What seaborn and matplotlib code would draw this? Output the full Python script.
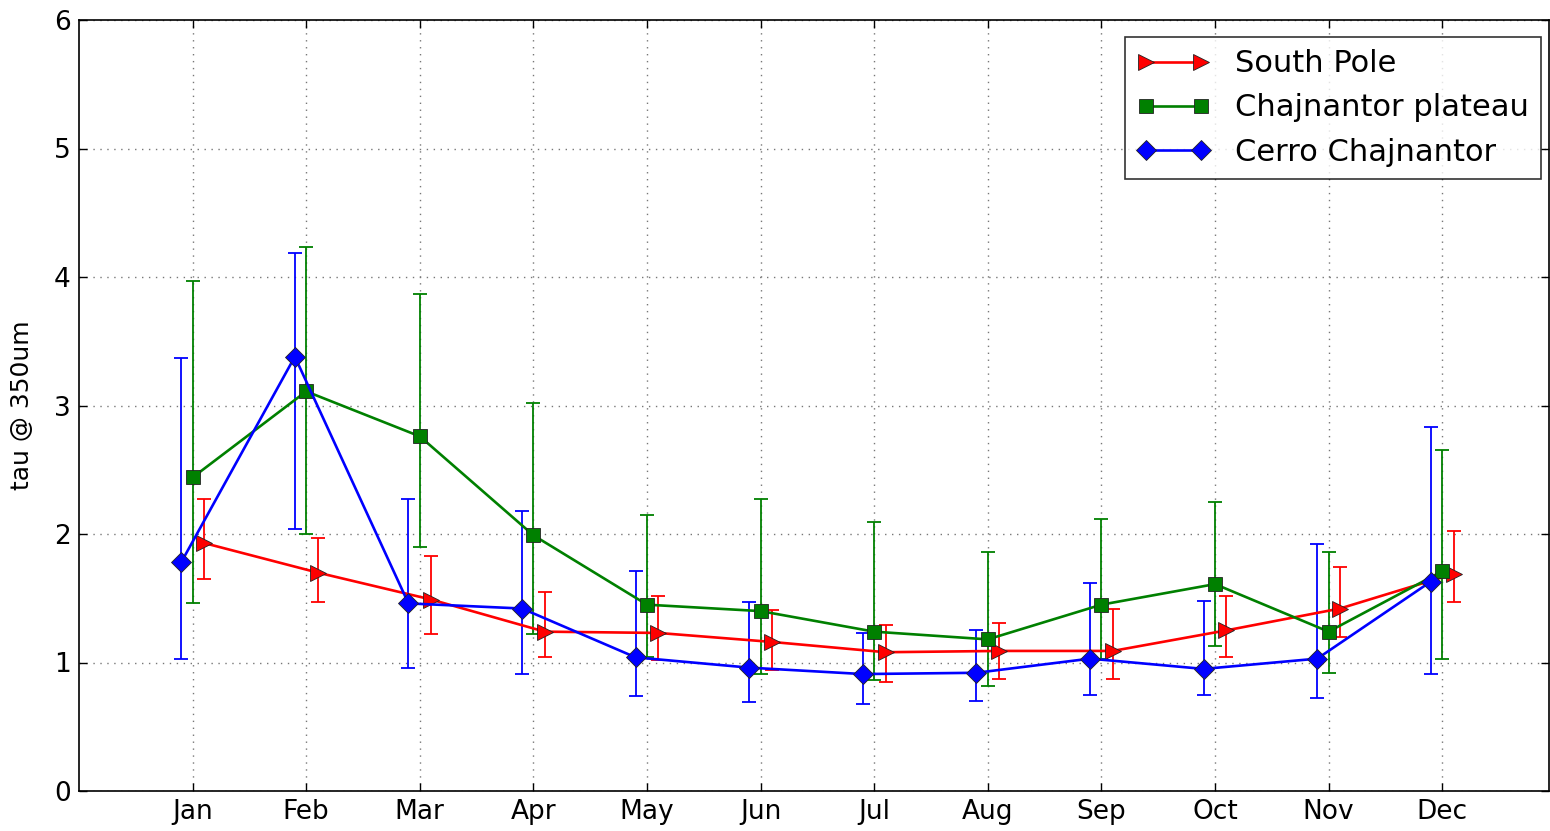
import numpy as np
import pandas as pd
import matplotlib
matplotlib.use("Agg")
import matplotlib.pyplot as plt
import seaborn as sns
from matplotlib.lines import Line2D

months = ["Jan", "Feb", "Mar", "Apr", "May", "Jun", "Jul", "Aug", "Sep", "Oct", "Nov", "Dec"]

sp_val = [1.93, 1.70, 1.49, 1.24, 1.23, 1.16, 1.08, 1.09, 1.09, 1.25, 1.42, 1.69]
sp_hi = [2.27, 1.97, 1.83, 1.55, 1.52, 1.41, 1.29, 1.31, 1.42, 1.52, 1.74, 2.02]
sp_lo = [1.65, 1.47, 1.22, 1.04, 1.02, 0.94, 0.85, 0.87, 0.87, 1.04, 1.20, 1.47]

cp_val = [2.44, 3.11, 2.76, 1.99, 1.45, 1.40, 1.24, 1.18, 1.45, 1.61, 1.24, 1.71]
cp_hi = [3.97, 4.23, 3.87, 3.02, 2.15, 2.27, 2.09, 1.86, 2.12, 2.25, 1.86, 2.65]
cp_lo = [1.46, 2.00, 1.90, 1.22, 1.04, 0.91, 0.86, 0.82, 1.03, 1.13, 0.92, 1.03]

cc_val = [1.78, 3.38, 1.46, 1.42, 1.04, 0.96, 0.91, 0.92, 1.03, 0.95, 1.03, 1.63]
cc_hi = [3.37, 4.19, 2.27, 2.18, 1.71, 1.47, 1.23, 1.25, 1.62, 1.48, 1.92, 2.83]
cc_lo = [1.03, 2.04, 0.96, 0.91, 0.74, 0.69, 0.68, 0.70, 0.75, 0.75, 0.72, 0.91]

series_names = ["South Pole", "Chajnantor plateau", "Cerro Chajnantor"]

sns.set_style("white")
plt.rcParams["font.family"] = ["DejaVu Sans"]
plt.rcParams["text.color"] = "black"
plt.rcParams["xtick.color"] = "black"
plt.rcParams["ytick.color"] = "black"
plt.rcParams["axes.labelcolor"] = "black"

fig = plt.figure(figsize=(15.5, 8.31), dpi=100)
ax = fig.add_axes([79 / 1550, 40 / 831, 1470 / 1550, 771 / 831])

base = np.arange(1, 13)
specs = [
    (series_names[0], sp_val, sp_lo, sp_hi, 0.1, "red", ">", 11),
    (series_names[1], cp_val, cp_lo, cp_hi, 0.0, "green", "s", 10),
    (series_names[2], cc_val, cc_lo, cc_hi, -0.1, "blue", "D", 10),
]

handles = []
for name, val, lo, hi, off, col, mk, ms in specs:
    x = base + off
    val = np.array(val)
    lo = np.array(lo)
    hi = np.array(hi)
    ax.errorbar(x, val, yerr=[val - lo, hi - val], fmt="none", ecolor=col,
                elinewidth=1.3, capsize=5, capthick=1.3, zorder=2)
    df = pd.DataFrame({"x": x, "y": val})
    sns.lineplot(data=df, x="x", y="y", ax=ax, color=col, lw=1.9,
                 marker=mk, markersize=ms,
                 markeredgecolor="#222222", markeredgewidth=0.6,
                 markerfacecolor=col, zorder=3, legend=False)
    handles.append(Line2D([0], [0], color=col, lw=1.9, marker=mk,
                          markersize=ms,
                          markerfacecolor=col, markeredgecolor="#222222",
                          markeredgewidth=0.6, label=name))

ax.set_xlim(0, 12.94)
ax.set_ylim(0, 6)
ax.set_xticks(base)
ax.set_xticklabels(months)
ax.set_yticks(range(0, 7))
ax.set_xlabel("")
ax.set_ylabel("tau @ 350um", fontsize=18, labelpad=14)
ax.tick_params(axis="both", direction="in", length=6, width=1, labelsize=19,
               top=True, right=True, bottom=True, left=True, pad=6)
ax.grid(True, linestyle=(0, (1, 4)), color="#777777", linewidth=1)
for s in ax.spines.values():
    s.set_color("black")
    s.set_linewidth(1.2)

leg = ax.legend(handles=handles, loc="upper right", numpoints=2, fontsize=22,
                frameon=True, fancybox=False, borderaxespad=0.0,
                bbox_to_anchor=((1541 - 79) / 1470, (791 - 37) / 771),
                handlelength=2.4, handletextpad=0.8, borderpad=0.4,
                labelspacing=0.5)
leg.get_frame().set_edgecolor("black")
leg.get_frame().set_linewidth(1.2)

fig.savefig("out.png", dpi=100)
